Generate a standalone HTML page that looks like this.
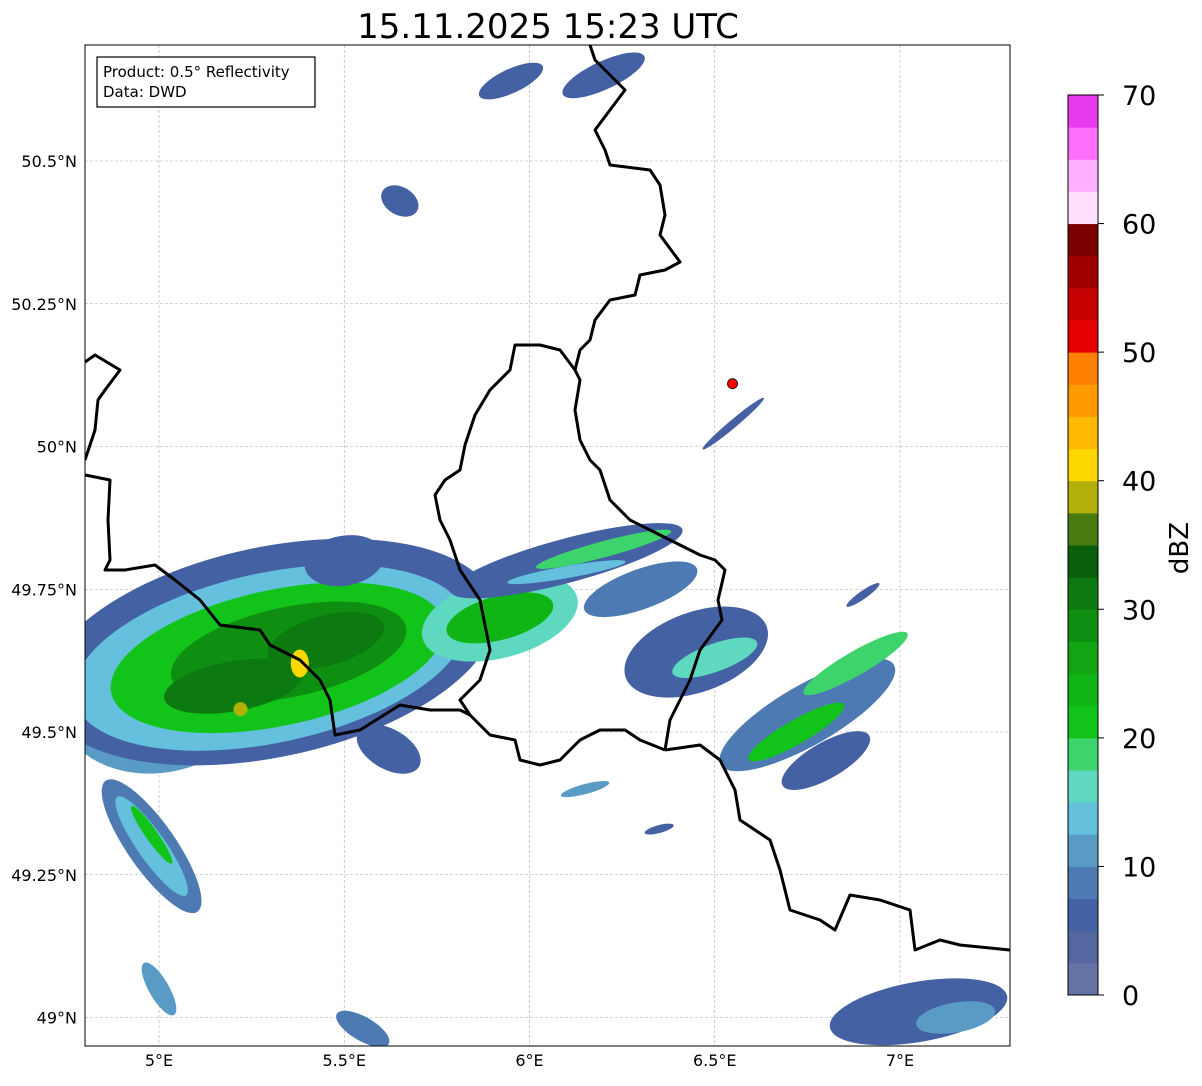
<!DOCTYPE html>
<html><head><meta charset="utf-8"><style>
body{margin:0;background:#fff;font-family:"Liberation Sans","DejaVu Sans",sans-serif}
svg text{font-family:"DejaVu Sans","Liberation Sans",sans-serif}
</style></head><body>
<svg id="chart" width="1202" height="1081" viewBox="0 0 1202 1081" xmlns="http://www.w3.org/2000/svg">
<defs><clipPath id="mapclip"><rect x="85" y="45" width="925" height="1001"/></clipPath></defs>
<rect x="0" y="0" width="1202" height="1081" fill="#fff"/>
<text x="548" y="38" font-size="34" text-anchor="middle">15.11.2025 15:23 UTC</text>
<g id="grid"></g>
<g id="echoes" clip-path="url(#mapclip)"></g>
<g id="borders" clip-path="url(#mapclip)"></g>
<g id="ticks"></g>
<rect x="85" y="45" width="925" height="1001" fill="none" stroke="#000" stroke-width="1"/>
<g>
<rect x="97" y="57" width="218" height="50" fill="#fff" stroke="#000" stroke-width="1.2"/>
<text x="103" y="77" font-size="15">Product: 0.5° Reflectivity</text>
<text x="103" y="97" font-size="15">Data: DWD</text>
</g>
<g id="cbar"></g>
<text transform="translate(1188,548) rotate(-90)" font-size="26" text-anchor="middle">dBZ</text>
</svg>
<script>
const NS="http://www.w3.org/2000/svg";
const lonTicks=[5,5.5,6,6.5,7];
const lonLabels=["5°E","5.5°E","6°E","6.5°E","7°E"];
const latTicks=[50.5,50.25,50,49.75,49.5,49.25,49];
const latLabels=["50.5°N","50.25°N","50°N","49.75°N","49.5°N","49.25°N","49°N"];
const cbLevels=[0,2.5,5,7.5,10,12.5,15,17.5,20,22.5,25,27.5,30,32.5,35,37.5,40,42.5,45,47.5,50,52.5,55,57.5,60,62.5,65,67.5,70];
const cbColors=["#6673a6","#5467a0","#4361a3","#4d7ab3","#5a9bc6","#64c0dc","#5fd8c0","#3dd46c","#12c41a","#10b414","#12a412","#0f8f12","#0c7a10","#0a5f0c","#4a7a10","#b0b008","#ffd700","#ffb900","#ff9a00","#ff7f00","#e40000","#c40000","#a00000","#7a0000","#ffe0ff","#ffb0ff","#ff70ff","#e83aee"];
const cbTickVals=[0,10,20,30,40,50,60,70];
// radar echo cells: lon, lat, dBZ, rx(px), ry(px), rotation
const cellLon=[5.00,5.30,5.30,5.32,5.35,5.45,5.20,5.38,5.22,5.50,5.92,5.92,6.10,6.20,6.45,6.50,6.75,6.72,6.80,6.88,4.98,4.98,4.98,5.62,6.20,5.95,5.65,6.30,7.05,7.15,6.15,6.35,6.55,6.90,5.00,5.55,6.10];
const cellLat=[49.56,49.64,49.63,49.63,49.64,49.66,49.58,49.62,49.54,49.80,49.70,49.70,49.80,49.82,49.64,49.63,49.53,49.50,49.45,49.62,49.30,49.30,49.32,49.47,50.65,50.64,50.43,49.75,49.01,49.00,49.40,49.33,50.04,49.74,49.05,48.98,49.78];
const cellDbz=[12,7,14,22,28,32,30,40,38,7,16,24,7,18,7,15,8,22,7,18,8,14,20,7,7,7,7,9,7,12,10,7,7,7,10,9,14];
const cellRx=[100,230,200,170,120,60,70,9,7,40,80,55,120,70,75,45,100,55,50,60,80,60,35,35,45,35,20,60,90,40,25,15,40,20,30,30,60];
const cellRy=[75,105,85,68,45,25,25,14,7,25,40,22,22,8,40,14,30,12,18,12,24,14,6,20,14,12,14,20,30,15,5,4,4,4,10,12,6];
const cellRot=[-10,-12,-12,-12,-12,-15,-10,0,0,-10,-15,-15,-15,-15,-20,-20,-30,-30,-30,-30,55,55,55,30,-25,-25,30,-20,-10,-10,-15,-15,-40,-35,60,30,-10];
const siteLon=[6.548], siteLat=[50.11];
function xs(lon){return 159+(lon-5)*370.5;}
function ys(lat){return 161+(50.5-lat)*571;}
function ccol(v){for(let i=cbColors.length-1;i>=0;i--){if(v>=cbLevels[i])return cbColors[i];}return cbColors[0];}
function cy(v){return 995-(v/70)*900;}
const grid=document.getElementById('grid'),ticks=document.getElementById('ticks');
lonTicks.forEach((v,i)=>{const x=xs(v);
 const l=document.createElementNS(NS,'line');
 
 
 l.setAttribute('x1',x);l.setAttribute('x2',x);l.setAttribute('y1',45);l.setAttribute('y2',1046);l.setAttribute('stroke','#aaa');l.setAttribute('stroke-width','0.6');l.setAttribute('stroke-dasharray','3,2');grid.appendChild(l);
 const t=document.createElementNS(NS,'text');
 
 
 t.setAttribute('x',x);t.setAttribute('y',1066);t.setAttribute('font-size','16');t.setAttribute('text-anchor','middle');t.textContent=lonLabels[i];ticks.appendChild(t);});
latTicks.forEach((v,i)=>{const y=ys(v);
 const l=document.createElementNS(NS,'line');
 
 
 l.setAttribute('x1',85);l.setAttribute('x2',1010);l.setAttribute('y1',y);l.setAttribute('y2',y);l.setAttribute('stroke','#aaa');l.setAttribute('stroke-width','0.6');l.setAttribute('stroke-dasharray','3,2');grid.appendChild(l);
 const t=document.createElementNS(NS,'text');
 
 
 t.setAttribute('x',77);t.setAttribute('y',y+6);t.setAttribute('font-size','16');t.setAttribute('text-anchor','end');t.textContent=latLabels[i];ticks.appendChild(t);});
const ech=document.getElementById('echoes');
for(let i=0;i<cellLon.length;i++){
 const e=document.createElementNS(NS,'ellipse');
 
 
 const x=xs(cellLon[i]),y=ys(cellLat[i]);
 e.setAttribute('cx',x);e.setAttribute('cy',y);e.setAttribute('rx',cellRx[i]);e.setAttribute('ry',cellRy[i]);
 e.setAttribute('transform','rotate('+cellRot[i]+' '+x+' '+y+')');
 e.setAttribute('fill',ccol(cellDbz[i]));ech.appendChild(e);}
const site=document.createElementNS(NS,'circle');


site.setAttribute('cx',xs(siteLon[0]));site.setAttribute('cy',ys(siteLat[0]));site.setAttribute('r',5);site.setAttribute('fill','#f00');site.setAttribute('stroke','#000');site.setAttribute('stroke-width','0.8');
document.getElementById('chart').appendChild(site);
const borderLines=[
"590,45 595,60 625,90 610,110 595,130 605,150 610,165 650,170 660,185 665,215 660,235 680,262 665,270 640,275 635,295 610,300 595,320 590,340 580,350 575,370 580,380 575,410 580,440 590,460 600,470 610,500 630,520 650,530 680,545 700,555 715,560 725,570 718,600 722,620 700,650 690,680 680,700 670,720 665,750",
"665,750 640,740 625,730 600,730 580,740 560,760 540,765 520,760 515,740 490,735 470,715 460,700 480,680 490,650 480,600 460,570 450,540 440,520 435,495 445,480 460,470 465,445 475,415 490,390 510,370 515,345 540,345 560,350 575,370",
"665,750 700,745 720,760 735,790 740,820 770,840 780,870 790,910 820,920 835,930 850,895 880,900 910,910 915,950 940,940 960,945 1010,950",
"85,475 110,480 108,520 110,560 105,570 125,570 155,565 175,580 200,600 220,625 260,630 270,645 300,660 320,680 330,700 335,735 360,730 400,705 430,710 460,710 470,715",
"85,362 95,355 120,370 105,390 98,400 95,430 85,460"];
const bg=document.getElementById('borders');
borderLines.forEach(p=>{const pl=document.createElementNS(NS,'polyline');
 
 
 pl.setAttribute('points',p);pl.setAttribute('fill','none');pl.setAttribute('stroke','#000');pl.setAttribute('stroke-width','3');pl.setAttribute('stroke-linejoin','round');bg.appendChild(pl);});
const cb=document.getElementById('cbar');
for(let i=0;i<cbColors.length;i++){const r=document.createElementNS(NS,'rect');
 
 
 const y1=cy(cbLevels[i+1]),y0=cy(cbLevels[i]);
 r.setAttribute('x',1068);r.setAttribute('y',y1);r.setAttribute('width',30);r.setAttribute('height',y0-y1+0.5);r.setAttribute('fill',cbColors[i]);cb.appendChild(r);}
const fr=document.createElementNS(NS,'rect');


fr.setAttribute('x',1068);fr.setAttribute('y',95);fr.setAttribute('width',30);fr.setAttribute('height',900);fr.setAttribute('fill','none');fr.setAttribute('stroke','#000');cb.appendChild(fr);
cbTickVals.forEach(v=>{const y=cy(v);
 const l=document.createElementNS(NS,'line');
 
 
 l.setAttribute('x1',1098);l.setAttribute('x2',1104);l.setAttribute('y1',y);l.setAttribute('y2',y);l.setAttribute('stroke','#000');cb.appendChild(l);
 const t=document.createElementNS(NS,'text');
 
 
 t.setAttribute('x',1122);t.setAttribute('y',y+10);t.setAttribute('font-size','27');t.textContent=v;cb.appendChild(t);});
</script>
</body></html>
